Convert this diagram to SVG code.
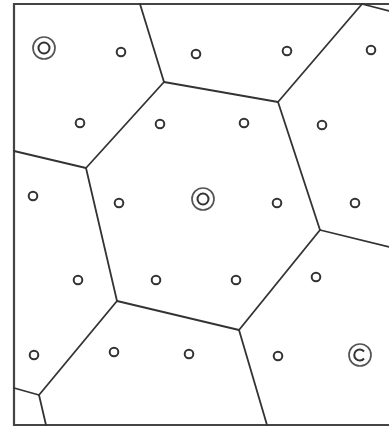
<svg xmlns="http://www.w3.org/2000/svg" width="389" height="429" viewBox="0 0 389 429">
<style>
.e{stroke:#333;stroke-width:1.8;fill:none;stroke-linecap:round;stroke-linejoin:round}
.b{stroke:#444;stroke-width:2.2;fill:none}
.s{stroke:#333;stroke-width:2;fill:none}
.d{stroke:#555;stroke-width:1.7;fill:none}
</style>
<rect width="389" height="429" fill="#fff"/>
<g id="frame">
<polyline class="b" points="389,4 14,4 14,425 389,425"/>
</g>
<g id="connectors">
<line class="e" x1="140" y1="4" x2="164" y2="82"/>
<line class="e" x1="164" y1="82" x2="278" y2="102"/>
<line class="e" x1="164" y1="82" x2="86" y2="168"/>
<line class="e" x1="14" y1="151" x2="86" y2="168"/>
<line class="e" x1="86" y1="168" x2="117" y2="301"/>
<line class="e" x1="117" y1="301" x2="239" y2="330"/>
<line class="e" x1="117" y1="301" x2="39" y2="395"/>
<line class="e" x1="14" y1="388" x2="39" y2="395"/>
<line class="e" x1="39" y1="395" x2="46" y2="425"/>
<line class="e" x1="239" y1="330" x2="267" y2="425"/>
<line class="e" x1="239" y1="330" x2="320" y2="230"/>
<line class="e" x1="320" y1="230" x2="389" y2="247"/>
<line class="e" x1="320" y1="230" x2="278" y2="102"/>
<line class="e" x1="278" y1="102" x2="362" y2="4"/>
<line class="e" x1="362" y1="4" x2="389" y2="11"/>
</g>
<g id="sites">
<g id="n1"><circle class="d" cx="44" cy="48" r="11"/><circle class="s" cx="44" cy="48" r="5.5"/></g>
<g id="n2"><circle class="s" cx="121" cy="52" r="4.3"/></g>
<g id="n3"><circle class="s" cx="196" cy="54" r="4.3"/></g>
<g id="n4"><circle class="s" cx="287" cy="51" r="4.3"/></g>
<g id="n5"><circle class="s" cx="371" cy="50" r="4.3"/></g>
<g id="n6"><circle class="s" cx="80" cy="123" r="4.3"/></g>
<g id="n7"><circle class="s" cx="160" cy="124" r="4.3"/></g>
<g id="n8"><circle class="s" cx="244" cy="123" r="4.3"/></g>
<g id="n9"><circle class="s" cx="322" cy="125" r="4.3"/></g>
<g id="n10"><circle class="s" cx="33" cy="196" r="4.3"/></g>
<g id="n11"><circle class="s" cx="119" cy="203" r="4.3"/></g>
<g id="n12"><circle class="d" cx="203" cy="199" r="11"/><circle class="s" cx="203" cy="199" r="5.5"/></g>
<g id="n13"><circle class="s" cx="277" cy="203" r="4.3"/></g>
<g id="n14"><circle class="s" cx="355" cy="203" r="4.3"/></g>
<g id="n15"><circle class="s" cx="78" cy="280" r="4.3"/></g>
<g id="n16"><circle class="s" cx="156" cy="280" r="4.3"/></g>
<g id="n17"><circle class="s" cx="236" cy="280" r="4.3"/></g>
<g id="n18"><circle class="s" cx="316" cy="277" r="4.3"/></g>
<g id="n19"><circle class="s" cx="34" cy="355" r="4.3"/></g>
<g id="n20"><circle class="s" cx="114" cy="352" r="4.3"/></g>
<g id="n21"><circle class="s" cx="189" cy="354" r="4.3"/></g>
<g id="n22"><circle class="s" cx="278" cy="356" r="4.3"/></g>
<g id="n23"><circle class="d" cx="360" cy="355" r="11"/><path class="s" d="M364,351.5 A5.5,5.5 0 1 0 364,358.5"/></g>
</g>
</svg>
